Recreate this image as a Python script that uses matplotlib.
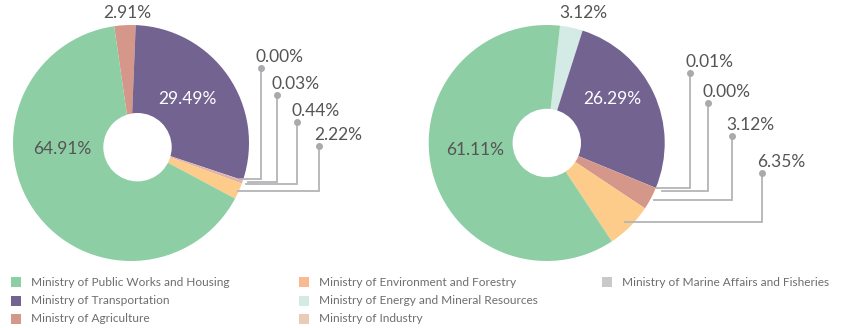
import matplotlib.pyplot as plt
import numpy as np
from matplotlib.patches import Circle, Rectangle

W, H = 843, 328

# ministries and colours
ministries = [
    "Ministry of Public Works and Housing",
    "Ministry of Transportation",
    "Ministry of Agriculture",
    "Ministry of Environment and Forestry",
    "Ministry of Energy and Mineral Resources",
    "Ministry of Industry",
    "Ministry of Marine Affairs and Fisheries",
]
pie_colors = {
    "Ministry of Public Works and Housing": "#8ecea5",
    "Ministry of Transportation": "#736391",
    "Ministry of Agriculture": "#d5978a",
    "Ministry of Environment and Forestry": "#fdcb8a",
    "Ministry of Energy and Mineral Resources": "#d4eae4",
    "Ministry of Industry": "#e2b2a6",
    "Ministry of Marine Affairs and Fisheries": "#c9c9c9",
}
legend_colors = dict(pie_colors)
legend_colors["Ministry of Environment and Forestry"] = "#f8b993"
legend_colors["Ministry of Industry"] = "#e9cbba"

# left chart, slices in drawing order (clockwise)
left_names = [
    "Ministry of Agriculture",
    "Ministry of Transportation",
    "Ministry of Marine Affairs and Fisheries",
    "Ministry of Energy and Mineral Resources",
    "Ministry of Industry",
    "Ministry of Environment and Forestry",
    "Ministry of Public Works and Housing",
]
left_values = [2.91, 29.49, 0.00, 0.03, 0.44, 2.22, 64.91]

# right chart
right_names = [
    "Ministry of Energy and Mineral Resources",
    "Ministry of Transportation",
    "Ministry of Industry",
    "Ministry of Marine Affairs and Fisheries",
    "Ministry of Agriculture",
    "Ministry of Environment and Forestry",
    "Ministry of Public Works and Housing",
]
right_values = [3.12, 26.29, 0.01, 0.00, 3.12, 6.35, 61.11]

TEXT = "#555555"
LINE = "#b4b4b8"
FONT = "Lato"


def py(y):
    """pixel row (from top) -> axis y (from bottom)"""
    return H - y


def draw_donut(ax, names, values, center, radius, hole_center, hole_r, start,
               inside, top_label, callouts):
    cx, cy = center
    colors = [pie_colors[n] for n in names]
    wedges, _ = ax.pie(values, colors=colors, startangle=start, counterclock=False,
                       center=(cx, py(cy)), radius=radius,
                       wedgeprops=dict(linewidth=0))
    ax.add_patch(Circle((hole_center[0], py(hole_center[1])), hole_r,
                        facecolor="white", edgecolor="none", zorder=3))

    # labels drawn inside the ring
    for idx, (x, y, col) in inside.items():
        ax.text(x, py(y), f"{values[idx]:.2f}%", color=col, fontsize=12.5,
                family=FONT, ha="center", va="center", zorder=5)

    idx, x, y = top_label
    ax.text(x, py(y), f"{values[idx]:.2f}%", color=TEXT, fontsize=12.5,
            family=FONT, ha="center", va="center", zorder=5)

    # elbow callouts: horizontal from slice, vertical up to the dot
    for idx, dot_x, dot_y, level in callouts:
        w = wedges[idx]
        mid = np.deg2rad((w.theta1 + w.theta2) / 2)
        t = (py(level) - py(cy)) / np.sin(mid)
        ax_x = cx + t * np.cos(mid)
        ax.plot([ax_x, dot_x, dot_x], [py(level), py(level), py(dot_y)],
                color=LINE, lw=1.3, solid_joinstyle="miter", zorder=4)
        ax.plot(dot_x, py(dot_y), "o", color="#a9a9ae", ms=4, zorder=4)
        ax.text(dot_x - 5, py(dot_y) + 6, f"{values[idx]:.2f}%", color=TEXT,
                fontsize=12.5, family=FONT, ha="left", va="baseline", zorder=5)


fig = plt.figure(figsize=(W / 100, H / 100), dpi=100)
ax = fig.add_axes([0, 0, 1, 1])

draw_donut(ax, left_names, left_values,
           center=(131, 143), radius=118,
           hole_center=(137.5, 147.2), hole_r=34.2, start=98.2,
           inside={6: (62, 148.7, TEXT), 1: (187, 98.7, "white")},
           top_label=(0, 127, 13),
           callouts=[(2, 261, 68, 179.3), (3, 277, 95, 182),
                     (4, 296.7, 122, 183.5), (5, 319, 146, 191)])

draw_donut(ax, right_names, right_values,
           center=(546.7, 143), radius=118,
           hole_center=(546.8, 143), hole_r=34.2, start=83.5,
           inside={6: (475.5, 150, TEXT), 1: (612, 99.3, "white")},
           top_label=(0, 583.3, 13.3),
           callouts=[(2, 690, 72.7, 188.3), (3, 707.7, 103.3, 190.7),
                     (4, 731.7, 135.7, 200), (5, 762.3, 173.3, 221.7)])

# legend, three columns
legend_cols = [
    ["Ministry of Public Works and Housing", "Ministry of Transportation",
     "Ministry of Agriculture"],
    ["Ministry of Environment and Forestry", "Ministry of Energy and Mineral Resources",
     "Ministry of Industry"],
    ["Ministry of Marine Affairs and Fisheries"],
]
col_x = [11, 299, 602]
row_y = [282, 300.5, 319]
for cx, col in zip(col_x, legend_cols):
    for ry, name in zip(row_y, col):
        ax.add_patch(Rectangle((cx, py(ry) - 5), 10, 10, facecolor=legend_colors[name],
                               edgecolor="none"))
        ax.text(cx + 20, py(ry), name, color="#6e6e6e", fontsize=8.6, family=FONT,
                ha="left", va="center")

ax.set_xlim(0, W)
ax.set_ylim(0, H)
ax.set_aspect("equal")
ax.axis("off")

fig.savefig("out.png", dpi=100)
